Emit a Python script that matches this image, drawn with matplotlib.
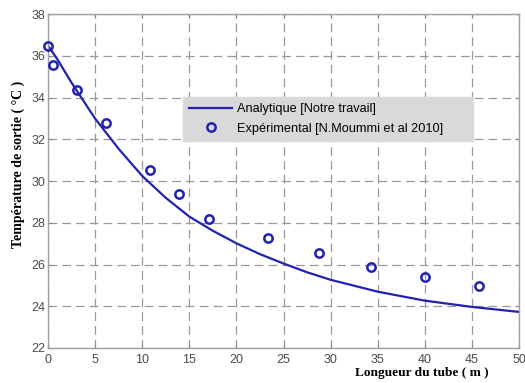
import matplotlib
matplotlib.use("Agg")
import matplotlib.pyplot as plt

# Analytical curve
x_line = [0, 1, 2.5, 5, 7.5, 10, 12.5, 15, 17.5, 20, 22.5, 25, 27.5, 30, 35, 40, 45, 50]
t_line = [36.5, 35.84, 34.72, 33.0, 31.55, 30.25, 29.2, 28.3, 27.62, 27.02, 26.5,
          26.05, 25.63, 25.27, 24.7, 24.27, 23.97, 23.73]

# Experimental points
x_exp = [0, 0.55, 3.1, 6.2, 10.8, 13.95, 17.05, 23.4, 28.8, 34.3, 40.0, 45.7]
t_exp = [36.5, 35.55, 34.37, 32.8, 30.52, 29.37, 28.19, 27.25, 26.55, 25.9, 25.4, 24.95]

xticks = [0, 5, 10, 15, 20, 25, 30, 35, 40, 45, 50]
yticks = [22, 24, 26, 28, 30, 32, 34, 36, 38]

blue = "#2222b0"

fig = plt.figure(figsize=(5.25, 3.83), dpi=100)
ax = fig.add_axes([0.0914, 0.0914, 0.8972, 0.8713])

ax.plot(x_line, t_line, color=blue, lw=1.6, label="Analytique [Notre travail]")
ax.plot(x_exp, t_exp, linestyle="none", marker="o", markersize=6,
        markerfacecolor="none", markeredgecolor=blue, markeredgewidth=1.8,
        label="Expérimental [N.Moummi et al 2010]", clip_on=False, zorder=5)

ax.set_xlim(0, 50)
ax.set_ylim(22, 38)
ax.set_xticks(xticks)
ax.set_yticks(yticks)
ax.grid(True, linestyle=(0, (7, 4)), color="#999999", lw=0.9)
ax.tick_params(direction="in", length=3, color="#888888", labelcolor="#4a4a4a",
               labelsize=9, top=True, right=True)
ax.tick_params(axis="x", pad=4)
ax.tick_params(axis="y", pad=2)
for s in ax.spines.values():
    s.set_color("#a0a0a0")
    s.set_linewidth(1.0)
for lab in ax.get_xticklabels() + ax.get_yticklabels():
    lab.set_family("Liberation Sans")

ax.set_xlabel("Longueur du tube ( m )", family="Liberation Serif",
              fontweight="bold", fontsize=9.6)
ax.xaxis.set_label_coords(0.794, -0.057)
ax.set_ylabel("Température de sortie ( °C )", family="Liberation Serif",
              fontweight="bold", fontsize=10)
ax.yaxis.set_label_coords(-0.049, 0.551)

leg = ax.legend(loc="upper left", bbox_to_anchor=(0.287, 0.614, 0.615, 0.137),
                mode="expand", borderaxespad=0, frameon=True, fancybox=False,
                prop={"family": "Liberation Sans", "size": 9.2},
                handlelength=3.4, handletextpad=0.4, borderpad=0.45, labelspacing=0.6)
leg.get_frame().set_facecolor("#d9d9d9")
leg.get_frame().set_edgecolor("#d9d9d9")
leg.get_frame().set_alpha(1)

fig.savefig("out.png", dpi=100)
